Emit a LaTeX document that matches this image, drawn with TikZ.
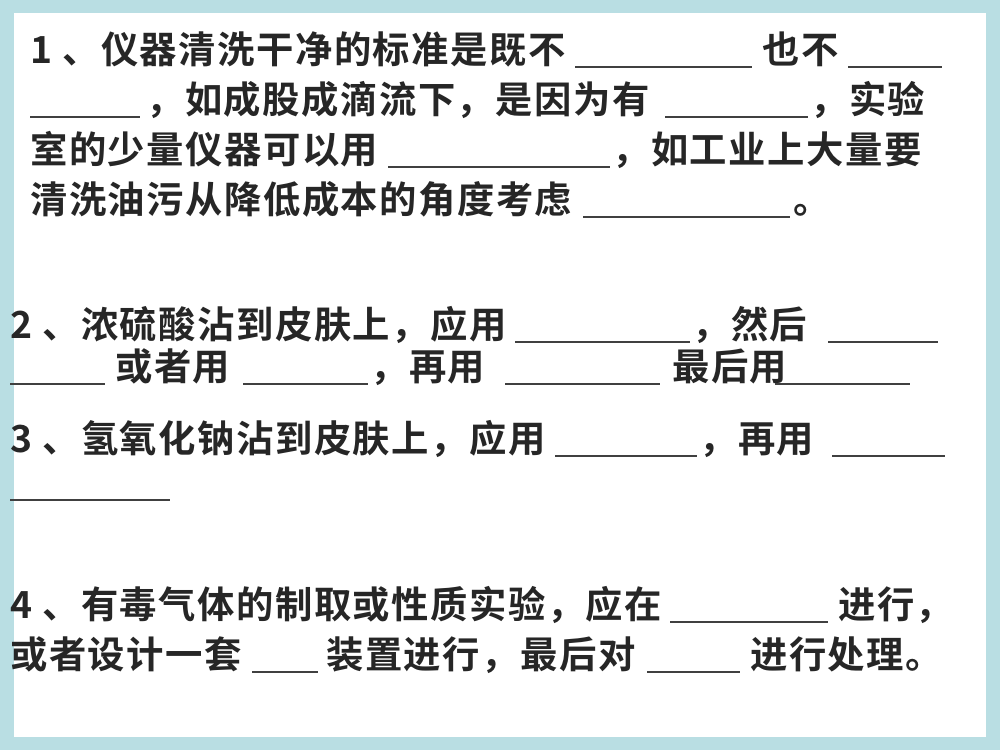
\documentclass[tikz,border=0pt]{standalone}
\usepackage{fontspec}
\setmainfont{Noto Sans CJK SC Bold}[LetterSpace=4]
\definecolor{frame}{HTML}{B9DEE3}
\begin{document}
\begin{tikzpicture}[x=0.75pt,y=-0.75pt,
  txt/.style={anchor=base west,inner sep=0pt,font=\fontsize{28}{30}\selectfont,text=black!85},
  blank/.style={line width=1.6pt,black!75}]
\fill[frame] (0,0) rectangle (1000,750);
\fill[white] (14,13) rectangle (986,737);
% item 1
\node[txt] (a1) at (30,63) {1 、仪器清洗干净的标准是既不};
\draw[blank] (575,67) -- (752,67);
\node[txt] (a2) at (762,63) {也不};
\draw[blank] (848,67) -- (942,67);
\draw[blank] (30,117) -- (140,117);
\node[txt] (a3) at (146,113) {，如成股成滴流下，是因为有};
\draw[blank] (665,117) -- (808,117);
\node[txt] (a4) at (810,113) {，实验};
\node[txt] (a5) at (30,163) {室的少量仪器可以用};
\draw[blank] (388,167) -- (610,167);
\node[txt] (a6) at (612,163) {，如工业上大量要};
\node[txt] (a7) at (30,213) {清洗油污从降低成本的角度考虑};
\draw[blank] (583,217) -- (790,217);
\node[txt] (a8) at (793,213) {。};
% item 2
\node[txt] (b1) at (10,338) {2 、浓硫酸沾到皮肤上，应用};
\draw[blank] (515,342) -- (690,342);
\node[txt] (b2) at (692,338) {，然后};
\draw[blank] (828,342) -- (938,342);
\draw[blank] (10,384) -- (105,384);
\node[txt] (b3) at (115,380) {或者用};
\draw[blank] (243,384) -- (368,384);
\node[txt] (b4) at (370,380) {，再用};
\draw[blank] (505,384) -- (660,384);
\node[txt] (b5) at (672,380) {最后用};
\draw[blank] (775,384) -- (910,384);
% item 3
\node[txt] (c1) at (10,452) {3 、氢氧化钠沾到皮肤上，应用};
\draw[blank] (555,456) -- (697,456);
\node[txt] (c2) at (699,452) {，再用};
\draw[blank] (832,456) -- (945,456);
\draw[blank] (10,500) -- (170,500);
% item 4
\node[txt] (d1) at (10,618) {4 、有毒气体的制取或性质实验，应在};
\draw[blank] (670,622) -- (828,622);
\node[txt] (d2) at (838,618) {进行，};
\node[txt] (d3) at (10,668) {或者设计一套};
\draw[blank] (252,672) -- (318,672);
\node[txt] (d4) at (326,668) {装置进行，最后对};
\draw[blank] (647,672) -- (740,672);
\node[txt] (d5) at (750,668) {进行处理。};
\end{tikzpicture}
\end{document}
